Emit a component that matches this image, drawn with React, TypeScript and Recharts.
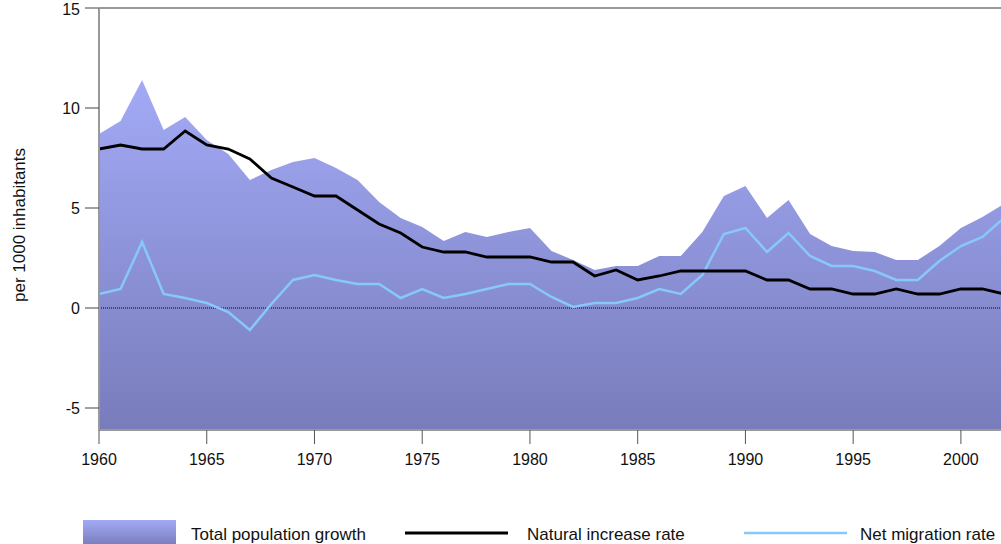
import React from 'react';
import { ComposedChart, Area, Line, XAxis, YAxis, ReferenceLine } from 'recharts';

const years = [
  1960, 1961, 1962, 1963, 1964, 1965, 1966, 1967, 1968, 1969,
  1970, 1971, 1972, 1973, 1974, 1975, 1976, 1977, 1978, 1979,
  1980, 1981, 1982, 1983, 1984, 1985, 1986, 1987, 1988, 1989,
  1990, 1991, 1992, 1993, 1994, 1995, 1996, 1997, 1998, 1999,
  2000, 2001, 2002,
];

const totalGrowth = [
  8.7, 9.35, 11.4, 8.9, 9.55, 8.4, 7.7, 6.4, 6.9, 7.3,
  7.5, 7.0, 6.4, 5.3, 4.5, 4.05, 3.35, 3.8, 3.55, 3.8,
  4.0, 2.85, 2.4, 1.9, 2.1, 2.1, 2.6, 2.6, 3.8, 5.6,
  6.1, 4.5, 5.4, 3.7, 3.1, 2.85, 2.8, 2.4, 2.4, 3.1,
  4.0, 4.55, 5.2,
];

const naturalIncrease = [
  7.95, 8.15, 7.95, 7.95, 8.85, 8.15, 7.95, 7.45, 6.5, 6.05,
  5.6, 5.6, 4.9, 4.2, 3.75, 3.05, 2.8, 2.8, 2.55, 2.55,
  2.55, 2.3, 2.3, 1.6, 1.9, 1.4, 1.6, 1.85, 1.85, 1.85,
  1.85, 1.4, 1.4, 0.95, 0.95, 0.7, 0.7, 0.95, 0.7, 0.7,
  0.95, 0.95, 0.7,
];

const netMigration = [
  0.7, 0.95, 3.3, 0.7, 0.5, 0.25, -0.2, -1.1, 0.2, 1.4,
  1.65, 1.4, 1.2, 1.2, 0.5, 0.95, 0.5, 0.7, 0.95, 1.2,
  1.2, 0.55, 0.05, 0.25, 0.25, 0.5, 0.95, 0.7, 1.65, 3.7,
  4.0, 2.8, 3.75, 2.6, 2.1, 2.1, 1.85, 1.4, 1.4, 2.35,
  3.1, 3.55, 4.5,
];

const xTicks = [1960, 1965, 1970, 1975, 1980, 1985, 1990, 1995, 2000];
const yTicks = [-5, 0, 5, 10, 15];

const seriesNames = ['Total population growth', 'Natural increase rate', 'Net migration rate'];
const yAxisTitle = 'per 1000 inhabitants';

const data = years.map((year, i) => ({
  year,
  total: totalGrowth[i],
  natural: naturalIncrease[i],
  migration: netMigration[i],
}));

const FONT = '"Liberation Sans", Arial, Helvetica, sans-serif';
const AREA_TOP = '#a3aaf6';
const AREA_BOTTOM = '#787cbb';
const NATURAL_COLOR = '#000000';
const MIGRATION_COLOR = '#87c8fa';

const YLabel = () => (
  <text
    x={19}
    y={225}
    transform="rotate(-90, 19, 225)"
    textAnchor="middle"
    dominantBaseline="central"
    fontSize={17}
    fontFamily={FONT}
    fill="#111"
  >
    {yAxisTitle}
  </text>
);

export default function App() {
  return (
    <div
      style={{
        position: 'fixed',
        left: 0,
        top: 0,
        width: 1001,
        height: 544,
        overflow: 'hidden',
        background: '#fff',
      }}
    >
      <ComposedChart
        width={1004}
        height={544}
        data={data}
        margin={{ top: 8, right: 0, bottom: 84, left: 0 }}
      >
        <defs>
          <linearGradient id="areaGrad" x1="0" y1="0" x2="0" y2="1">
            <stop offset="0%" stopColor={AREA_TOP} />
            <stop offset="100%" stopColor={AREA_BOTTOM} />
          </linearGradient>
        </defs>
        <XAxis
          dataKey="year"
          type="number"
          domain={[1960, 2002]}
          ticks={xTicks}
          allowDataOverflow
          height={30}
          tickSize={14}
          tickMargin={10}
          axisLine={{ stroke: '#999', strokeWidth: 2 }}
          tickLine={{ stroke: '#555', strokeWidth: 1 }}
          tick={{ fontSize: 16, fontFamily: FONT, fill: '#111' }}
        />
        <YAxis
          type="number"
          domain={[-6.1, 15]}
          ticks={yTicks}
          allowDataOverflow
          width={99}
          tickSize={14}
          tickMargin={5}
          axisLine={{ stroke: '#999', strokeWidth: 2 }}
          tickLine={{ stroke: '#444', strokeWidth: 1 }}
          tick={{ fontSize: 16, fontFamily: FONT, fill: '#111' }}
          label={<YLabel />}
        />
        <Area
          dataKey="total"
          name={seriesNames[0]}
          type="linear"
          baseValue="dataMin"
          stroke="none"
          fill="url(#areaGrad)"
          fillOpacity={1}
          isAnimationActive={false}
          dot={false}
          activeDot={false}
        />
        <ReferenceLine y={0} stroke="#000" strokeWidth={1} strokeDasharray="1 1" />
        <ReferenceLine y={15} stroke="#999" strokeWidth={2} />
        <Line
          dataKey="migration"
          name={seriesNames[2]}
          type="linear"
          stroke={MIGRATION_COLOR}
          strokeWidth={2.5}
          dot={false}
          activeDot={false}
          isAnimationActive={false}
        />
        <Line
          dataKey="natural"
          name={seriesNames[1]}
          type="linear"
          stroke={NATURAL_COLOR}
          strokeWidth={2.8}
          dot={false}
          activeDot={false}
          isAnimationActive={false}
        />
      </ComposedChart>
      <svg
        width={1001}
        height={544}
        style={{ position: 'absolute', left: 0, top: 0, pointerEvents: 'none' }}
      >
        <defs>
          <linearGradient id="legendGrad" x1="0" y1="0" x2="0" y2="1">
            <stop offset="0%" stopColor={AREA_TOP} />
            <stop offset="100%" stopColor={AREA_BOTTOM} />
          </linearGradient>
        </defs>
        <rect x={83} y={520} width={93} height={26} fill="url(#legendGrad)" />
        <text x={191} y={540} fontSize={17} fontFamily={FONT} fill="#111">
          {seriesNames[0]}
        </text>
        <line x1={405} y1={533} x2={508} y2={533} stroke={NATURAL_COLOR} strokeWidth={2.8} />
        <text x={527} y={540} fontSize={17} fontFamily={FONT} fill="#111">
          {seriesNames[1]}
        </text>
        <line x1={744} y1={533} x2={847} y2={533} stroke={MIGRATION_COLOR} strokeWidth={2.5} />
        <text x={860} y={540} fontSize={17} fontFamily={FONT} fill="#111">
          {seriesNames[2]}
        </text>
      </svg>
    </div>
  );
}
